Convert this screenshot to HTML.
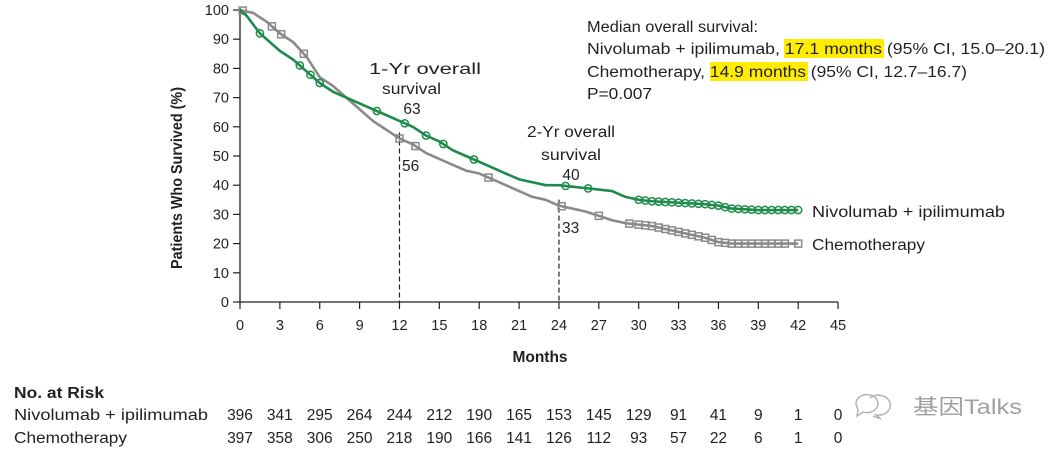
<!DOCTYPE html>
<html><head><meta charset="utf-8">
<style>
body{margin:0;background:#fff;}
svg text{font-family:"Liberation Sans","Noto Sans CJK SC",sans-serif;fill:#231f20;}
</style></head>
<body>
<svg id="chart" width="1057" height="452" xmlns="http://www.w3.org/2000/svg">
<g id="g"></g>
</svg>
<script>
const xTicks=[0,3,6,9,12,15,18,21,24,27,30,33,36,39,42,45];
const yTicks=[0,10,20,30,40,50,60,70,80,90,100];
const nivoMonths=[0,0.5,1,1.5,2,3,4,5,6,7,8,9,10,11,12,13,14,15,16,17,18,19,20,21,22,23,24,25,26,27,28,29,30,31,33,35,36,37,39,42];
const nivoSurv=[100,98,95,92,90,86,83,79,75,72,70,68,66,64,62,60,57,55,52,50,48,46,44,42,41,40,40,39.5,39,38.5,38,36,35,34.5,34,33.5,33,32,31.5,31.5];
const chemoMonths=[0,1,2,3,4,5,6,7,8,9,10,11,12,13,14,15,16,17,18,19,20,21,22,23,24,25,26,27,28,29,30,31,32,33,34,35,36,37,42];
const chemoSurv=[100,99,96,92,89,84,77,74,70,66,62,59,56,54,51,49,47,45,44,42,40,38,36,35,33,32,31,29.5,28,27,26.5,26,25,24,23,22,20.5,20,20];
const nivoCensor=[1.5,4.5,5.3,6,10.3,12.4,14,15.3,17.6,24.5,26.2,30,30.5,31,31.5,32,32.5,33,33.5,34,34.5,35,35.5,36,36.5,37,37.5,38,38.5,39,39.5,40,40.5,41,41.5,42];
const chemoCensor=[0.2,2.4,3.1,4.8,12,13.2,18.7,24.2,27,29.3,30,30.5,31,31.5,32,32.5,33,33.5,34,34.5,35,35.5,36,36.5,37,37.5,38,38.5,39,39.5,40,40.5,41,42];
const riskNivo=[396,341,295,264,244,212,190,165,153,145,129,91,41,9,1,0];
const riskChemo=[397,358,306,250,218,190,166,141,126,112,93,57,22,6,1,0];

const NS="http://www.w3.org/2000/svg";
const g=document.getElementById('g');
const X=m=>240+m*13.29;
const Y=v=>302-v*2.92;
function el(t,a,txt){const e=document.createElementNS(NS,t);for(const k in a)e.setAttribute(k,a[k]);if(txt!==undefined)e.textContent=txt;g.appendChild(e);return e;}
function survAt(ms,ss,m){
 for(let i=1;i<ms.length;i++){if(m<=ms[i]){const f=(m-ms[i-1])/(ms[i]-ms[i-1]);return ss[i-1]+f*(ss[i]-ss[i-1]);}}
 return ss[ss.length-1];}
let hl1=el('rect',{x:784,y:39,width:100,height:19,fill:'#ffed00'});


let hl2=el('rect',{x:710,y:62,width:98,height:19,fill:'#ffed00'});


let ax=el('path',{d:`M240 8 V302 H${X(45)}`,stroke:'#231f20','stroke-width':1.3,fill:'none'});


xTicks.forEach(t=>{
 let l=el('line',{x1:X(t),x2:X(t),y1:302,y2:309,stroke:'#231f20','stroke-width':1.2});
 
 
 let tx=el('text',{x:X(t),y:330,'text-anchor':'middle','font-size':14.5},t);
 
 
});
yTicks.forEach(t=>{
 let l=el('line',{x1:233,x2:240,y1:Y(t),y2:Y(t),stroke:'#231f20','stroke-width':1.2});
 
 
 let tx=el('text',{x:229,y:Y(t)+5,'text-anchor':'end','font-size':14.5},t);
 
 
});
let yt=el('text',{x:0,y:0,transform:'translate(182,178) rotate(-90)','text-anchor':'middle','font-size':15.5,'font-weight':'bold',textLength:182,lengthAdjust:'spacingAndGlyphs'},'Patients Who Survived (%)');


let xt=el('text',{x:540,y:362,'text-anchor':'middle','font-size':15.5,'font-weight':'bold'},'Months');


[12,24].forEach(m=>{
 let d=el('line',{x1:X(m),x2:X(m),y1:Y(survAt(chemoMonths,chemoSurv,m))-6,y2:302,stroke:'#231f20','stroke-dasharray':'5,3','stroke-width':1.2});
 
 
});
function linePath(ms,ss){let d=`M${X(ms[0])} ${Y(ss[0])}`;for(let i=1;i<ms.length;i++){d+=` L${X(ms[i])} ${Y(ss[i])}`;}return d;}
let pc=el('path',{d:linePath(chemoMonths,chemoSurv),stroke:'#8a8a8a','stroke-width':2.6,fill:'none','stroke-linejoin':'round'});


chemoCensor.forEach(m=>{let v=survAt(chemoMonths,chemoSurv,m);
 let r=el('rect',{x:X(m)-3.5,y:Y(v)-3.5,width:7,height:7,fill:'none',stroke:'#8a8a8a','stroke-width':1.5});
 
 });
let pn=el('path',{d:linePath(nivoMonths,nivoSurv),stroke:'#1f8a4c','stroke-width':2.6,fill:'none','stroke-linejoin':'round'});


nivoCensor.forEach(m=>{let v=survAt(nivoMonths,nivoSurv,m);
 let c=el('circle',{cx:X(m),cy:Y(v),r:3.6,fill:'none',stroke:'#1f8a4c','stroke-width':1.5});
 
 });
function txt(x,y,s,name,len,extra){const a=Object.assign({x:x,y:y,'font-size':15.5},extra||{});
 if(len){a.textLength=len;a.lengthAdjust='spacingAndGlyphs';}
 let t=el('text',a,s);
 
 
 return t;}
txt(369,74,'1-Yr overall','one-year-label',112);
txt(382,94,'survival','one-year-label',59);
txt(412,114,'63','one-year-nivo-value',0,{'text-anchor':'middle'});
txt(402,171,'56','one-year-chemo-value');
txt(527,137,'2-Yr overall','two-year-label',88);
txt(541,160,'survival','two-year-label',60);
txt(571,180,'40','two-year-nivo-value',0,{'text-anchor':'middle'});
txt(562,233,'33','two-year-chemo-value');
txt(812,217,'Nivolumab + ipilimumab','legend-nivolumab',193);
txt(812,250,'Chemotherapy','legend-chemotherapy',113);
txt(587,32,'Median overall survival:','median-title',171);
txt(587,54,'Nivolumab + ipilimumab, 17.1 months (95% CI, 15.0–20.1)','median-nivo',458);
txt(587,77,'Chemotherapy, 14.9 months (95% CI, 12.7–16.7)','median-chemo',380);
txt(587,99,'P=0.007','p-value',65);
txt(14,398,'No. at Risk','risk-title',90,{'font-weight':'bold','font-size':16});
txt(14,420,'Nivolumab + ipilimumab','risk-row-label',194);
txt(14,443,'Chemotherapy','risk-row-label',113);
xTicks.forEach((t,i)=>{
 txt(X(t),420,riskNivo[i],'risk-nivo-count',0,{'text-anchor':'middle'});
 txt(X(t),443,riskChemo[i],'risk-chemo-count',0,{'text-anchor':'middle'});
});
let wm=el('text',{x:913,y:414,'font-size':21,style:'fill:#a0a0a0',textLength:109,lengthAdjust:'spacingAndGlyphs'},'基因Talks');


let ic=el('path',{d:'M856 404 a11 9 0 1 1 7 8 l-6 4 1-6 z M870 398 a12 10 0 1 1 6 17 l5 4-8-3',fill:'none',stroke:'#b0b0b0','stroke-width':1.4});


</script>
</body></html>
